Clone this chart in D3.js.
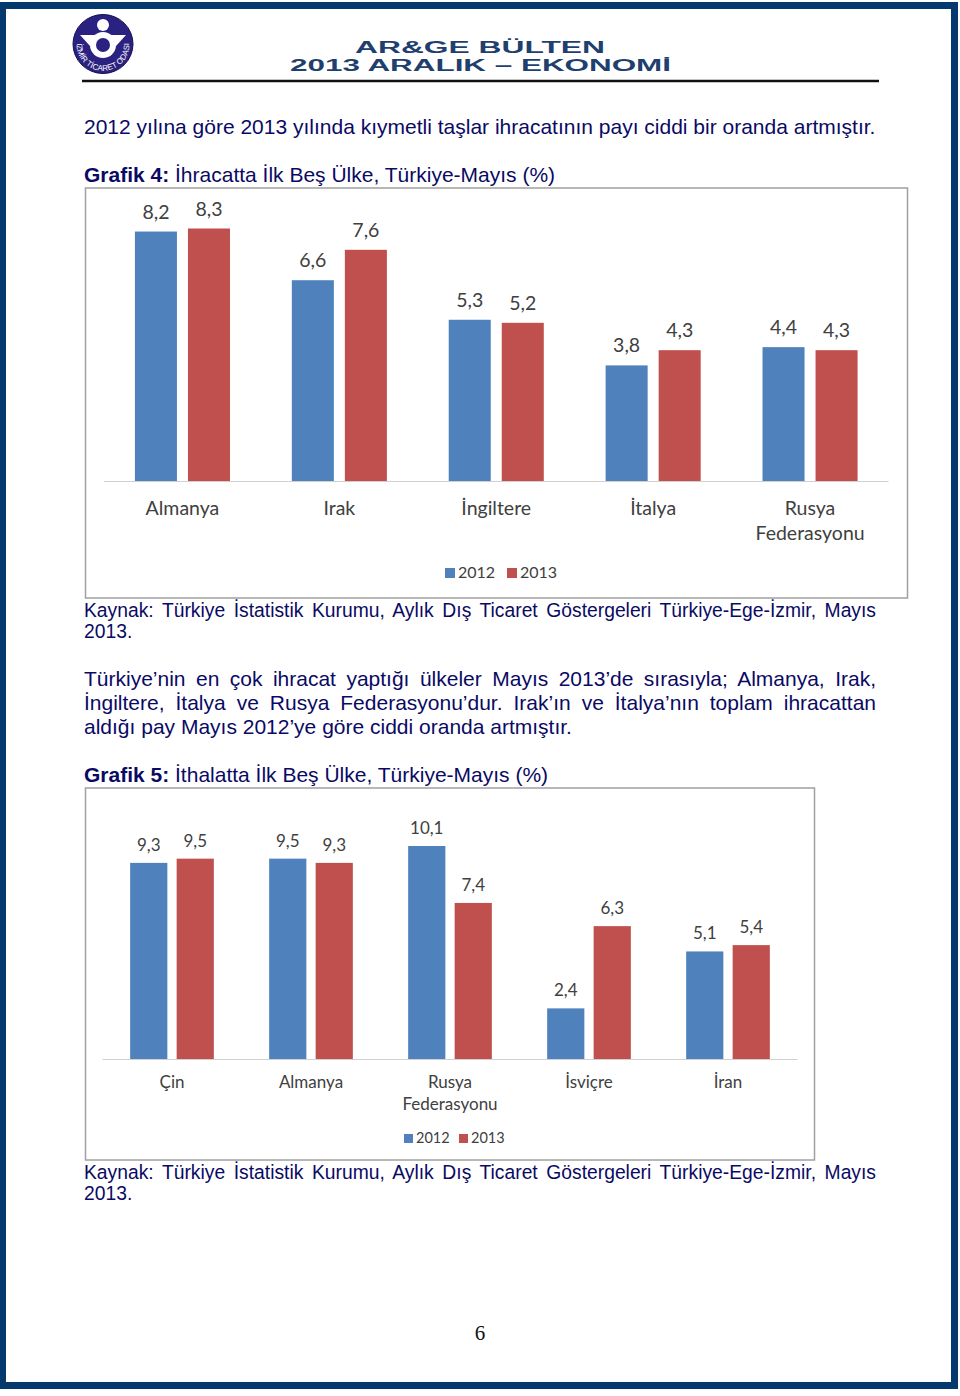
<!DOCTYPE html>
<html lang="tr"><head><meta charset="utf-8">
<script src="https://d3js.org/d3.v7.min.js"></script>
<style>
html,body{margin:0;padding:0;background:#fff;overflow:hidden}
#page{position:relative;width:960px;height:1396px}
svg{position:absolute;left:0;top:0}
.t{position:absolute;font-family:"Liberation Sans",Arial,sans-serif;font-size:21px;color:#0a0a64;white-space:nowrap;line-height:24px;height:24px}
.j{text-align:justify;text-align-last:justify;white-space:normal}
.k{font-size:19.3px}
</style></head><body><div id="page"><svg id="s" width="960" height="1396"></svg></div>
<script>
const series = ["2012","2013"];
const colors = ["#4f81bd","#c0504d"];
const cats4 = ["Almanya","Irak","İngiltere","İtalya","Rusya Federasyonu"];
const v4a = [8.2,6.6,5.3,3.8,4.4];
const v4b = [8.3,7.6,5.2,4.3,4.3];
const cats5 = ["Çin","Almanya","Rusya Federasyonu","İsviçre","İran"];
const v5a = [9.3,9.5,10.1,2.4,5.1];
const v5b = [9.5,9.3,7.4,6.3,5.4];

const svg = d3.select("#s");
const page = d3.select("#page");

// page frame
svg.append("rect").attr("x",2.5).attr("y",5.5).attr("width",952).attr("height",1380)
  .attr("fill","none").attr("stroke","#03396c").attr("stroke-width",7);

// header
const hdr = [["AR&GE BÜLTEN",355,250,52.5],["2013 ARALIK – EKONOMİ",290,381,70.5]];
hdr.forEach(h=>svg.append("text").text(h[0]).attr("x",h[1]).attr("y",h[3])
  .attr("textLength",h[2]).attr("lengthAdjust","spacingAndGlyphs")
  .attr("font-family","Liberation Sans").attr("font-weight","bold").attr("font-size",16).attr("fill","#1f3f6e"));
svg.append("line").attr("x1",82).attr("x2",879).attr("y1",81).attr("y2",81).attr("stroke","#111").attr("stroke-width",2.5);

// logo
const lg = svg.append("g").attr("transform","translate(103,44)");
lg.append("ellipse").attr("rx",30).attr("ry",29.5).attr("fill","#2b2180").attr("stroke","#15104f").attr("stroke-width",1);
lg.append("circle").attr("cy",-19).attr("r",6).attr("fill","#fff");
lg.append("path").attr("d","M-23,-9 L23,-9 L13,2 L-13,2 Z").attr("fill","#fff");
lg.append("circle").attr("cy",1).attr("r",13).attr("fill","#fff");
lg.append("circle").attr("cy",1).attr("r",7).attr("fill","#2b2180");
svg.append("defs").append("path").attr("id","arc").attr("d","M79,33 A26.5,26.5 0 1 0 127,33");
svg.append("text").attr("font-family","Liberation Sans").attr("font-size",8).attr("fill","#fff")
  .append("textPath").attr("href","#arc").attr("startOffset","50%").attr("text-anchor","middle").text("İZMİR TİCARET ODASI");

// text blocks
function line(txt,x,y,w,cls,boldPart){
  const d = page.append("div").attr("class","t "+cls).style("left",x+"px").style("top",y+"px");
  if(w) d.style("width",w+"px");
  if(boldPart) d.append("b").text(boldPart);
  d.append("span").text(txt);
}
line("2012 yılına göre 2013 yılında kıymetli taşlar ihracatının payı ciddi bir oranda artmıştır.",84,115,null,"");
line(" İhracatta İlk Beş Ülke, Türkiye-Mayıs (%)",84,163,null,"","Grafik 4:");
line("Kaynak: Türkiye İstatistik Kurumu, Aylık Dış Ticaret Göstergeleri Türkiye-Ege-İzmir, Mayıs",84,599,792,"j k");
line("2013.",84,620,null,"k");
line("Türkiye’nin en çok ihracat yaptığı ülkeler Mayıs 2013’de sırasıyla; Almanya, Irak,",84,667,792,"j");
line("İngiltere, İtalya ve Rusya Federasyonu’dur. Irak’ın ve İtalya’nın toplam ihracattan",84,691,792,"j");
line("aldığı pay Mayıs 2012’ye göre ciddi oranda artmıştır.",84,715,null,"");
line(" İthalatta İlk Beş Ülke, Türkiye-Mayıs (%)",84,763,null,"","Grafik 5:");
line("Kaynak: Türkiye İstatistik Kurumu, Aylık Dış Ticaret Göstergeleri Türkiye-Ege-İzmir, Mayıs",84,1161,792,"j k");
line("2013.",84,1182,null,"k");

svg.append("text").text("6").attr("x",480).attr("y",1340).attr("text-anchor","middle")
  .attr("font-family","Liberation Serif").attr("font-size",21).attr("fill","#111");

function chart(o){
  svg.append("rect").attr("x",o.fx).attr("y",o.fy).attr("width",o.fw).attr("height",o.fh)
    .attr("fill","#fff").attr("stroke","#a0a0a0").attr("stroke-width",1.5);
  const x0 = d3.scaleBand().domain(o.cats).range(o.xr);
  const x1 = d3.scaleBand().domain(series).range([0,x0.bandwidth()]).paddingInner(o.pi).paddingOuter(o.po);
  const y = d3.scaleLinear().domain([0,o.ymax]).range([o.base,o.ytop]);
  const g = svg.append("g");
  [o.a,o.b].forEach((vals,si)=>{
    g.selectAll(null).data(vals).join("rect")
      .attr("x",(d,i)=>x0(o.cats[i])+x1(series[si]))
      .attr("y",d=>y(d)).attr("width",x1.bandwidth()).attr("height",d=>o.base-y(d))
      .attr("fill",colors[si]);
    g.selectAll(null).data(vals).join("text")
      .attr("x",(d,i)=>x0(o.cats[i])+x1(series[si])+x1.bandwidth()/2)
      .attr("y",d=>y(d)-o.lo).attr("text-anchor","middle")
      .attr("font-family","Lato").attr("font-size",o.fs).attr("fill","#404040")
      .text(d=>String(d).replace(".",","));
  });
  svg.append("line").attr("x1",o.xr[0]).attr("x2",o.xr[1]).attr("y1",o.base+.5).attr("y2",o.base+.5)
    .attr("stroke","#d0d0d0").attr("stroke-width",1.2);
  o.cats.forEach(c=>{
    const cx = x0(c)+x0.bandwidth()/2;
    c.split(" ").forEach((p,i)=>svg.append("text").text(p).attr("x",cx).attr("y",o.cy+i*o.lh)
      .attr("text-anchor","middle").attr("font-family","Lato").attr("font-size",o.fs).attr("fill","#404040"));
  });
  series.forEach((s,i)=>{
    svg.append("rect").attr("x",o.lx[i]).attr("y",o.ly-o.ls+1).attr("width",o.ls).attr("height",o.ls).attr("fill",colors[i]);
    svg.append("text").text(s).attr("x",o.lx[i]+o.ls+3).attr("y",o.ly+1)
      .attr("font-family","Lato").attr("font-size",o.lfs).attr("fill","#404040");
  });
}
chart({cats:cats4,a:v4a,b:v4b,fx:85.5,fy:188,fw:822,fh:410,xr:[104,888.5],pi:.2075,po:.583,
  base:481,ytop:228.5,ymax:8.3,lo:13,fs:19.5,cy:515,lh:25,lx:[445,507],ly:577,ls:10,lfs:16});
chart({cats:cats5,a:v5a,b:v5b,fx:85.5,fy:788,fw:729,fh:372,xr:[102.5,797.5],pi:.2,po:.595,
  base:1059,ytop:846,ymax:10.1,lo:12,fs:17,cy:1088,lh:22,lx:[404,459],ly:1142,ls:9,lfs:14.5});
</script></body></html>
